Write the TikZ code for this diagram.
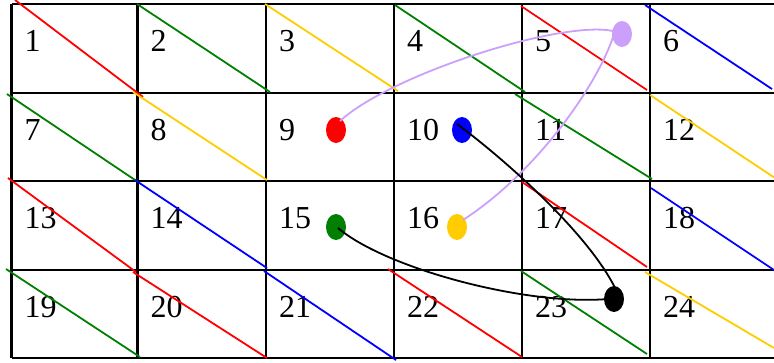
\documentclass[tikz,border=0pt]{standalone}
\usepackage{fontspec}
\setmainfont{Liberation Serif}
\usetikzlibrary{shapes.geometric,calc}
\definecolor{cred}{RGB}{255,0,0}
\definecolor{cgreen}{RGB}{0,128,0}
\definecolor{cblue}{RGB}{0,0,255}
\definecolor{cgold}{RGB}{255,204,0}
\definecolor{cpurple}{RGB}{204,160,250}
\tikzset{
  gridline/.style={line width=2.4pt, black},
  diag/.style={line width=1.8pt},
  numlabel/.style={anchor=base west, inner sep=0pt, font=\fontsize{32}{32}\selectfont},
  dot/.style={ellipse, minimum width=20pt, minimum height=26pt, inner sep=0pt, draw=none},
  link/.style={line width=1.8pt},
}
\begin{document}
\begin{tikzpicture}[x=1pt,y=-1pt]
\useasboundingbox (0,0) rectangle (774,362);
\clip (0,0) rectangle (774,362);
% grid
\foreach \y in {4,93,181,270,358}
  \draw[gridline] (11.5,\y) -- (790,\y);
\foreach \x in {11.5,137.5,266,394,522,650,778}
  \draw[gridline] (\x,4) -- (\x,358);
% numbers
\foreach \n/\x/\y in {1/11.5/4,2/137.5/4,3/266/4,4/394/4,5/522/4,6/650/4,
  7/11.5/93,8/137.5/93,9/266/93,10/394/93,11/522/93,12/650/93,
  13/11.5/181,14/137.5/181,15/266/181,16/394/181,17/522/181,18/650/181,
  19/11.5/270,20/137.5/270,21/266/270,22/394/270,23/522/270,24/650/270}
  \node[numlabel] (n\n) at (\x+13,\y+47) {\n};
% diagonals
\draw[diag,cred]    (15,0) -- (143,97);
\draw[diag,cgreen]  (137,4) -- (270,92);
\draw[diag,cgold]   (265,4) -- (398,91);
\draw[diag,cgreen]  (395,5) -- (525,92);
\draw[diag,cred]    (521,6) -- (647,90);
\draw[diag,cblue]   (645,5) -- (772,89);
\draw[diag,cgreen]  (7,94) -- (138,182);
\draw[diag,cgold]   (133,92) -- (267,180);
\draw[diag,cgreen]  (515,94) -- (652,179);
\draw[diag,cgold]   (650,95) -- (778,180);
\draw[diag,cred]    (8,178) -- (136,272);
\draw[diag,cblue]   (135,180) -- (267,268);
\draw[diag,cred]    (522,182) -- (647,267);
\draw[diag,cblue]   (651,188) -- (774,270);
\draw[diag,cgreen]  (6,269) -- (140,357);
\draw[diag,cred]    (133,272) -- (267,358);
\draw[diag,cblue]   (264,271) -- (396,360);
\draw[diag,cred]    (388,269) -- (522,357);
\draw[diag,cgreen]  (521,271) -- (647,354);
\draw[diag,cgold]   (645,272) -- (774,348);
% dots
\node[dot, fill=cred]    (dred)    at (336,130) {};
\node[dot, fill=cblue]   (dblue)   at (462,130) {};
\node[dot, fill=cgreen]  (dgreen)  at (336,227) {};
\node[dot, fill=cgold]   (dgold)   at (457,227) {};
\node[dot, fill=cpurple] (dpurple) at (622,34) {};
\node[dot, fill=black]   (dblack)  at (614,299) {};
% connectors
\draw[link,cpurple] ($(dred.center)+(4,-9)$) .. controls (390,75) and (560,20) .. ($(dpurple.center)+(-9,-3)$);
\draw[link,cpurple] ($(dgold.center)+(6,-7)$) .. controls (540,170) and (600,80) .. ($(dpurple.center)+(-8,0)$);
\draw[link,black] ($(dblue.center)+(-5,-6)$) .. controls (507,161) and (592,237) .. ($(dblack.center)+(3,-7)$);
\draw[link,black] ($(dgreen.center)+(2,1)$) .. controls (385,268) and (525,306) .. ($(dblack.center)+(-6,0)$);
\end{tikzpicture}
\end{document}
